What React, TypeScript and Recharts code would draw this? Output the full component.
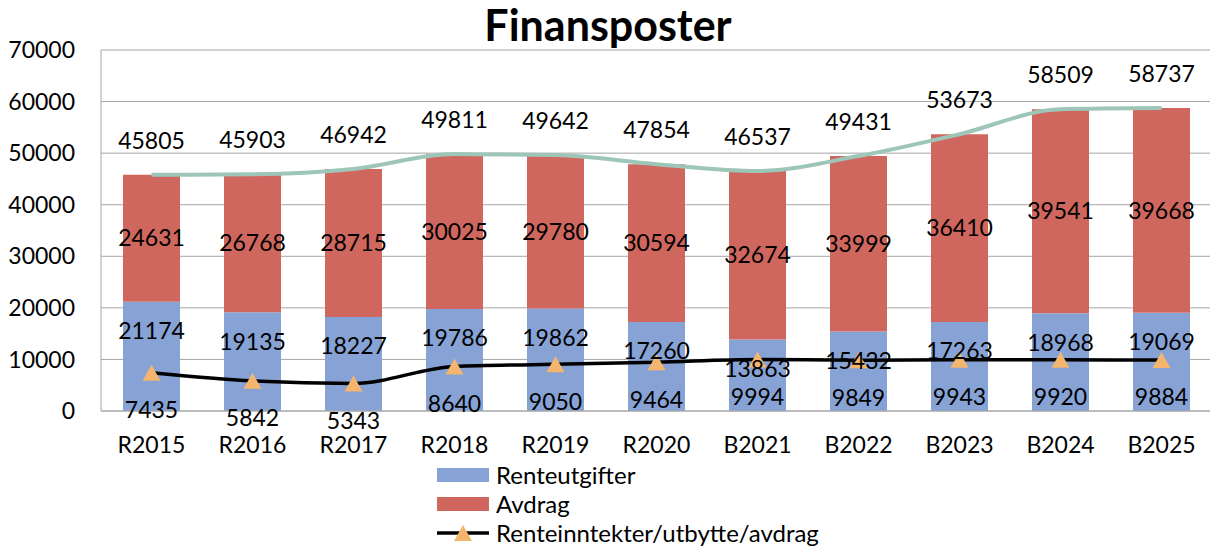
import React from 'react';
import {
  ComposedChart,
  Bar,
  Line,
  XAxis,
  YAxis,
  CartesianGrid,
  Legend,
  LabelList,
} from 'recharts';

const categories = ['R2015', 'R2016', 'R2017', 'R2018', 'R2019', 'R2020', 'B2021', 'B2022', 'B2023', 'B2024', 'B2025'];
const renteutgifter = [21174, 19135, 18227, 19786, 19862, 17260, 13863, 15432, 17263, 18968, 19069];
const avdrag = [24631, 26768, 28715, 30025, 29780, 30594, 32674, 33999, 36410, 39541, 39668];
const totals = [45805, 45903, 46942, 49811, 49642, 47854, 46537, 49431, 53673, 58509, 58737];
const renteinntekter = [7435, 5842, 5343, 8640, 9050, 9464, 9994, 9849, 9943, 9920, 9884];
const yTicks = [0, 10000, 20000, 30000, 40000, 50000, 60000, 70000];

const data = categories.map((cat, i) => ({
  cat,
  renteutgifter: renteutgifter[i],
  avdrag: avdrag[i],
  total: totals[i],
  renteinntekter: renteinntekter[i],
}));

const FONT = 'Lato, "Open Sans", sans-serif';
const colors = {
  blue: '#87a3d6',
  red: '#cf675e',
  green: '#9dc6b9',
  orange: '#f4b66e',
  grid: '#a6a6a6',
};

const labelStyle = { fill: '#000', fontSize: 23, fontFamily: FONT };

function Triangle(props: any) {
  const { cx, cy } = props;
  if (cx == null || cy == null) return null;
  return (
    <polygon
      points={`${cx},${cy - 8} ${cx - 9},${cy + 8} ${cx + 9},${cy + 8}`}
      fill={colors.orange}
    />
  );
}

function LegendBox() {
  const row: React.CSSProperties = { display: 'flex', alignItems: 'center', height: 29 };
  return (
    <div style={{ fontFamily: FONT, fontSize: 24, color: '#000', whiteSpace: 'nowrap' }}>
      <div style={row}>
        <div style={{ width: 52, height: 14, background: colors.blue }} />
        <span style={{ marginLeft: 7 }}>Renteutgifter</span>
      </div>
      <div style={row}>
        <div style={{ width: 52, height: 14, background: colors.red }} />
        <span style={{ marginLeft: 7 }}>Avdrag</span>
      </div>
      <div style={row}>
        <svg width={52} height={20}>
          <line x1={0} y1={10} x2={52} y2={10} stroke="#000" strokeWidth={3.5} />
          <polygon points="26,2 17,18 35,18" fill={colors.orange} />
        </svg>
        <span style={{ marginLeft: 7 }}>Renteinntekter/utbytte/avdrag</span>
      </div>
    </div>
  );
}

export default function App() {
  return (
    <div style={{ position: 'absolute', left: 0, top: 0, width: 1210, height: 549, overflow: 'hidden', background: '#fff' }}>
      <ComposedChart
        width={1212}
        height={549}
        data={data}
        margin={{ top: 50, right: 0, bottom: 0, left: 0 }}
      >
        <text x={608} y={41} textAnchor="middle" fontFamily={FONT} fontWeight="bold" fontSize={43} fill="#000">
          Finansposter
        </text>
        <CartesianGrid vertical={false} stroke={colors.grid} />
        <XAxis
          dataKey="cat"
          height={138}
          interval={0}
          tickLine={false}
          tickSize={0}
          tickMargin={26}
          axisLine={{ stroke: colors.grid }}
          tick={{ fill: '#000', fontSize: 23, fontFamily: FONT }}
        />
        <YAxis
          width={101}
          domain={[0, 70000]}
          ticks={yTicks}
          tickLine={false}
          tickSize={0}
          tickMargin={26}
          axisLine={{ stroke: colors.grid }}
          tick={{ fill: '#000', fontSize: 23, fontFamily: FONT }}
        />
        <Legend
          layout="horizontal"
          verticalAlign="middle"
          align="center"
          content={() => <LegendBox />}
          wrapperStyle={{ top: 460, left: 437, width: 'auto' }}
        />
        <Bar dataKey="renteutgifter" stackId="a" fill={colors.blue} barSize={57} isAnimationActive={false}>
          <LabelList dataKey="renteutgifter" position="insideTop" offset={21} {...labelStyle} />
        </Bar>
        <Bar dataKey="avdrag" stackId="a" fill={colors.red} barSize={57} isAnimationActive={false}>
          <LabelList dataKey="avdrag" position="center" {...labelStyle} />
        </Bar>
        <Line
          type="monotone"
          dataKey="total"
          stroke={colors.green}
          strokeWidth={4}
          dot={false}
          isAnimationActive={false}
        >
          <LabelList dataKey="total" position="top" offset={26} {...labelStyle} />
        </Line>
        <Line
          type="monotone"
          dataKey="renteinntekter"
          stroke="#000"
          strokeWidth={3.5}
          dot={<Triangle />}
          activeDot={false}
          isAnimationActive={false}
        >
          <LabelList dataKey="renteinntekter" position="bottom" offset={29} {...labelStyle} />
        </Line>
      </ComposedChart>
    </div>
  );
}
